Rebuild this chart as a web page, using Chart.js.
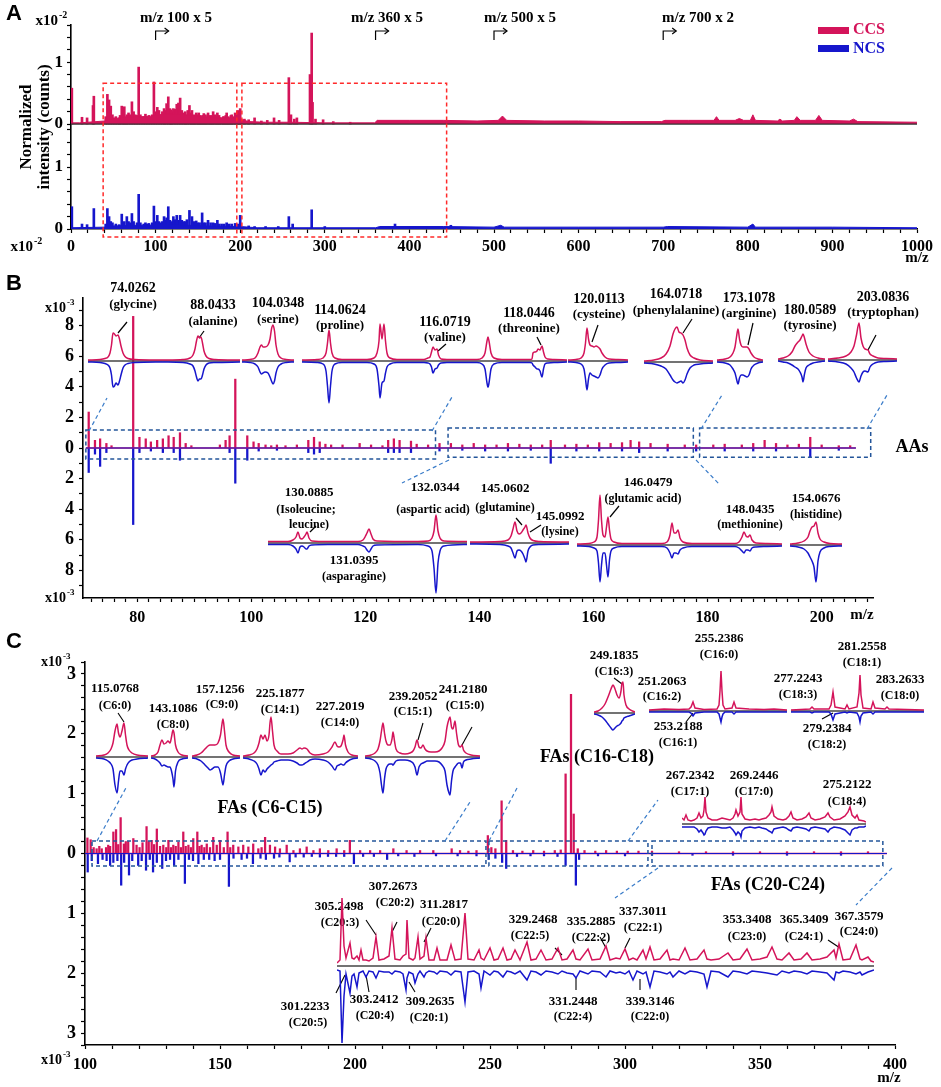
<!DOCTYPE html>
<html>
<head>
<meta charset="utf-8">
<script src="https://cdn.jsdelivr.net/npm/chart.js@4.4.1/dist/chart.umd.min.js"></script>
<style>
  body { margin: 0; background: #fff; }
  #fig { position: relative; width: 941px; height: 1087px; overflow: hidden; background: #fff; }
  #fig canvas { position: absolute; }
</style>
</head>
<body>
<div id="fig"></div>
<script>
// ---------- data: panel A (x10^-2, two stacked traces) ----------
const A_X_MAJOR = [0, 100, 200, 300, 400, 500, 600, 700, 800, 900, 1000];
const A_CCS_PEAKS = [[1,0.58],[13,0.11],[19,0.1],[26,0.3],[27,0.45],[43,0.48],[45,0.39],[47,0.29],[51,0.1],[55,0.08],
  [60,0.29],[63,0.28],[66,0.15],[72,0.36],[76,0.15],[80,0.92],[84,0.1],[90,0.12],[94,0.1],[98,0.68],[102,0.27],
  [106,0.15],[110,0.25],[113,0.33],[115,0.44],[118,0.23],[121,0.25],[125,0.32],[127,0.34],[129,0.42],[133,0.18],
  [136,0.15],[140,0.3],[143,0.22],[146,0.12],[148,0.18],[151,0.18],[154,0.12],[157,0.17],[160,0.12],[162,0.18],
  [165,0.12],[168,0.2],[173,0.18],[176,0.1],[178,0.1],[181,0.12],[184,0.18],[187,0.1],[190,0.15],[194,0.18],
  [197,0.22],[200,0.25],[205,0.08],[210,0.07],[217,0.1],[225,0.05],[232,0.06],[240,0.1],[246,0.06],[257.5,0.75],
  [260,0.15],[264,0.08],[267,0.1],[282.5,0.8],[284.5,1.47],[285.5,0.35],[289,0.08],[298,0.07],[310,0.04],[330,0.03]];
const A_CCS_SMALL = [[41,0.12],[49,0.15],[53,0.12],[57,0.1],[58,0.14],[62,0.15],[65,0.12],[68,0.18],[70,0.15],
  [74,0.2],[78,0.14],[82,0.15],[86,0.12],[88,0.16],[92,0.14],[96,0.15],[100,0.2],[104,0.22],[108,0.2],[111,0.22],
  [117,0.25],[119,0.2],[123,0.24],[131,0.22],[135,0.2],[138,0.22],[142,0.18],[145,0.15],[150,0.15],[153,0.14],
  [156,0.14],[159,0.15],[164,0.14],[167,0.14],[170,0.15],[172,0.12],[175,0.14],[180,0.12],[183,0.14],[186,0.12],
  [189,0.14],[192,0.12],[196,0.15],[199,0.14]];
const A_CCS_ENV = [[0,0.02],[10,0.02],[40,0.05],[50,0.09],[60,0.1],[70,0.11],[80,0.12],[90,0.12],[100,0.14],[110,0.16],
  [120,0.16],[130,0.15],[140,0.14],[150,0.12],[160,0.11],[170,0.1],[180,0.1],[190,0.09],[200,0.08],[210,0.04],
  [230,0.03],[260,0.03],[300,0.02],[359,0.02],[362,0.06],[400,0.06],[440,0.06],[480,0.05],[505,0.06],[510,0.13],
  [515,0.06],[560,0.05],[600,0.05],[650,0.04],[698,0.04],[702,0.06],[730,0.06],[760,0.06],[763,0.12],[766,0.06],
  [785,0.06],[790,0.09],[795,0.06],[803,0.06],[806,0.15],[809,0.06],[835,0.05],[838,0.08],[841,0.05],[855,0.06],
  [858,0.12],[862,0.06],[880,0.06],[884,0.14],[888,0.06],[920,0.05],[925,0.08],[930,0.04],[1000,0.03]];
const A_NCS_PEAKS = [[1,0.36],[13,0.08],[19,0.07],[27,0.33],[43,0.33],[45,0.2],[47,0.12],[60,0.24],[63,0.12],[66,0.2],
  [72,0.25],[80,0.56],[90,0.08],[98,0.37],[102,0.22],[106,0.1],[110,0.2],[113,0.18],[115,0.36],[121,0.2],[125,0.22],
  [129,0.22],[133,0.12],[140,0.3],[143,0.2],[148,0.13],[152,0.1],[155,0.26],[159,0.1],[162,0.14],[168,0.1],[173,0.14],
  [178,0.08],[184,0.1],[190,0.08],[194,0.09],[200,0.22],[210,0.05],[217,0.04],[230,0.04],[245,0.04],[257.5,0.2],
  [262,0.08],[284.5,0.31],[300,0.04],[383,0.08],[449,0.06]];
const A_NCS_SMALL = [[41,0.08],[49,0.1],[53,0.08],[57,0.07],[62,0.1],[68,0.12],[70,0.1],[74,0.12],[78,0.1],[82,0.1],
  [86,0.08],[88,0.1],[92,0.09],[96,0.1],[100,0.12],[104,0.12],[108,0.12],[111,0.14],[117,0.14],[119,0.12],[123,0.15],
  [127,0.14],[131,0.14],[135,0.12],[137,0.15],[145,0.12],[150,0.1],[157,0.1],[165,0.1],[170,0.09],[175,0.08],
  [181,0.08],[187,0.08],[197,0.08]];
const A_NCS_ENV = [[0,0.02],[40,0.03],[50,0.05],[80,0.06],[120,0.07],[160,0.05],[200,0.04],[220,0.02],[300,0.02],
  [360,0.02],[365,0.04],[440,0.04],[500,0.03],[508,0.06],[512,0.03],[600,0.03],[700,0.03],[705,0.04],[800,0.03],
  [806,0.08],[809,0.03],[900,0.03],[1000,0.02]];
const A_ZOOM_MARKS = [[100, 'm/z 100 x 5'], [360, 'm/z 360 x 5'], [500, 'm/z 500 x 5'], [700, 'm/z 700 x 2']];

// ---------- data: panel B amino acids (x10^-3) ----------
const B_X_MAJOR = [80, 100, 120, 140, 160, 180, 200];
const B_Y_MAJOR = [-8, -6, -4, -2, 0, 2, 4, 6, 8];
const B_CCS_PEAKS = [[71.5,2.35],[72.6,0.5],[73.5,0.6],[74.6,0.3],[75.5,0.15],[79.3,8.6],[80.4,0.7],[81.5,0.6],[82.4,0.4],
  [83.5,0.5],[84.5,0.6],[85.5,0.8],[86.4,0.7],[87.5,1.0],[88.5,0.3],[89.5,0.15],[94.5,0.2],[95.5,0.5],[96.2,0.8],
  [97.2,4.5],[99.3,0.8],[100.4,0.4],[101.3,0.3],[102.5,0.2],[103.5,0.15],[104.5,0.2],[106,0.15],[108,0.2],[110,0.5],
  [111,0.7],[112,0.4],[113,0.25],[114,0.2],[116,0.2],[119,0.3],[121,0.2],[123,0.15],[124,0.5],[125,0.6],[126,0.5],
  [128,0.45],[129,0.25],[131,0.2],[133,0.3],[135,0.3],[137,0.2],[139,0.3],[141,0.2],[143,0.2],[145,0.3],[147,0.25],
  [149,0.2],[151,0.2],[152.5,0.5],[155,0.2],[157,0.25],[159,0.2],[161,0.35],[163,0.3],[165,0.35],[166.5,0.5],
  [168,0.4],[170,0.3],[173,0.25],[176,0.2],[178,0.2],[181,0.2],[183,0.25],[186,0.2],[188,0.3],[190,0.5],[192,0.3],
  [194,0.2],[196,0.25],[198,0.7],[200,0.2],[203,0.15],[205,0.15]];
const B_NCS_PEAKS = [[71.5,1.6],[72.6,0.4],[73.5,1.2],[74.6,0.3],[79.3,5.0],[80.4,0.3],[82.4,0.2],[84.5,0.3],[86.4,0.3],
  [87.5,0.8],[96.2,0.3],[97.2,2.3],[99.3,0.8],[101.3,0.2],[104.5,0.15],[110,0.3],[111,0.4],[112,0.3],[124,0.3],
  [125,0.3],[126,0.3],[128,0.3],[133,0.2],[137,0.15],[141,0.2],[145,0.2],[149,0.15],[152.5,1.0],[157,0.2],[161,0.2],
  [165,0.2],[168,0.3],[173,0.2],[178,0.2],[183,0.2],[188,0.2],[192,0.2],[198,0.6],[203,0.15]];

// inset profiles: [channel, CCS intensity, NCS intensity] (relative units)
const B_GLY = [[0,1,1],[12,1.5,1.5],[17,2.5,2.5],[20,4,4],[22,8,7],[23.5,16,14],[25,28,26],[26.5,27,25],[28,25,22],
  [30,26,24],[31.5,22,20],[33,15,14],[35,8,7],[37,4.5,4],[40,2.5,2.5],[47,1.5,1.5],[75,1,1]];
const B_ALA = [[0,1,1],[20,1.5,1.5],[27,3,3],[30,6,5],[32,12,10],[33.5,20,16],[35,25,20],[36.5,23,18],[38,24,18],
  [39.5,18,14],[41,10,8],[43,5,4],[46,2.5,2],[52,1.5,1.5],[77,1,1]];
const B_SER = [[0,1,1],[8,1.5,1.5],[13,3,3],[16,8,6],[18,14,11],[19.5,16,13],[21,14,12],[23,14,11],[26,16,12],
  [28,22,16],[29.5,32,20],[31,36,23],[32.5,30,20],[34,16,12],[36,7,6],[39,3,3],[44,1.5,1.5],[52,1,1]];
const B_PRO = [[0,1,1],[15,1.5,1.5],[21,3,3],[24,8,10],[25.5,18,25],[27,31,42],[28.5,18,25],[30,8,10],[33,3,3],
  [40,1.5,1.5],[65,1.5,1.5],[72,3,3],[75,8,8],[77,20,25],[78,37,37],[80,22,22],[82,37,20],[83.5,20,12],[85,8,6],
  [88,3,3],[95,1.5,1.5],[122,1.5,1.5],[126,3,2],[128,4,3],[129.5,9,6],[131,14,12],[133,11,8],[135,12,7],[136.5,6,4],
  [139,2,2],[145,1.5,1.5],[175,1.5,1.5],[180,3,3],[183,8,8],[185,20,22],[186,24,26],[187,20,22],[189,8,8],[192,3,3],
  [200,1.5,1.5],[228,1.5,1.5],[230,2,2],[231,8,4],[233,9,6],[235,10,8],[236,12,8],[238,11,10],[240,15,16],
  [241.5,9,8],[243,4,3],[246,2,2],[252,1.5,1.5],[265,1,1]];
const B_CYS = [[0,1,1],[8,1.5,1.5],[13,3,3],[16,8,8],[17.5,18,18],[19,33,29],[20.5,22,18],[22,16,12],[24,15,14],
  [26,14,15],[28,15,16],[30,14,17],[32,12,14],[34,8,8],[37,4,4],[41,2,2],[50,1.5,1.5],[60,1,1]];
const B_PHE = [[0,1,1],[10,2,2],[17,4,4],[22,8,7],[26,16,13],[29,28,18],[31,33,20],[33,35,21],[35,30,20],[37,29,19],
  [39,27,21],[41,22,18],[43,14,12],[46,7,6],[50,4,3],[56,2,2],[69,1,1]];
const B_ARG = [[0,1,1],[8,2,2],[13,4,4],[16,8,8],[18,14,12],[19.5,24,18],[21,32,23],[22.5,22,17],[24,16,14],[26,14,14],
  [28,14,15],[30,14,16],[32,12,14],[34,8,8],[37,4,4],[41,2,2],[46,1,1]];
const B_TYR = [[0,1,1],[5,2,2],[10,4,3],[14,8,5],[17,14,7],[20,18,9],[22,20,12],[24,24,17],[25,26,22],[26.5,22,14],
  [28,16,8],[31,8,5],[35,4,3],[40,2,2],[47,1,1]];
const B_TRP = [[0,1,1],[10,2,2],[18,4,4],[23,8,8],[26,14,12],[28.5,25,18],[31,37,22],[33,22,16],[35,14,12],[37,11,11],
  [40,10,12],[42,6,7],[45,4,4],[50,2,2],[58,1.5,1.5],[69,1,1]];
const B_ILE_ASN_ASP = [[0,1.5,1.5],[20,1.5,1.5],[25,3,3],[28,6,6],[30,11,10],[32,5,4],[34,4,3],[36,6,4],[38,9,6],
  [39,11,6],[41,5,3],[44,2,2],[60,1.5,1.5],[90,1.5,1.5],[95,3,3],[97,6,4],[99,10,7],[101,14,9],[103,9,6],[105,4,3],
  [109,2,2],[150,1.5,1.5],[160,2,3],[164,5,8],[166,12,25],[168,28,50],[170,12,20],[172,5,8],[176,2,3],[199,1.5,1.5]];
const B_GLN_LYS = [[0,1,1],[30,1.5,1.5],[38,3,3],[41,7,5],[43,14,10],[45,21,15],[47,12,8],[49,9,7],[51,10,8],
  [53,13,11],[55,16,16],[56,18,19],[58,10,8],[60,5,4],[63,2.5,2],[70,1.5,1.5],[99,1,1]];
const B_GLU_MET = [[0,1,1],[12,1.5,1.5],[17,3,3],[20,8,6],[21.5,25,18],[23,50,37],[24.5,25,20],[26,10,8],[28,8,8],
  [29.5,18,20],[31,28,32],[32.5,15,15],[34,6,6],[37,3,3],[45,1.5,1.5],[85,1.5,1.5],[90,3,3],[93,10,8],[95,22,13],
  [97,12,8],[99,12,8],[101,15,9],[103,7,5],[106,3,3],[115,1.5,1.5],[158,1.5,1.5],[162,3,3],[165,8,6],[167,13,8],
  [169,9,5],[171,8,5],[173,10,6],[175,5,3],[179,2,2],[190,1.5,1.5],[205,1,1]];
const B_HIS = [[0,1,1],[8,2,2],[14,4,4],[18,8,8],[20,14,12],[22,18,16],[24,19,22],[26,23,37],[28,12,16],[30,6,7],
  [34,3,3],[40,1.5,1.5],[52,1,1]];

// ---------- data: panel C fatty acids (x10^-3) ----------
const C_X_MAJOR = [100, 150, 200, 250, 300, 350, 400];
const C_Y_MAJOR = [-3, -2, -1, 0, 1, 2, 3];
const C_CCS_PEAKS = [[100.9,0.26],[102.1,0.23],[103.2,0.1],[104.3,0.08],[105.3,0.12],[106.2,0.08],[107.8,0.1],
  [108.6,0.14],[109.3,0.12],[110.5,0.36],[111.5,0.4],[112.3,0.15],[113.2,0.6],[114.4,0.16],[115.1,0.2],[116,0.2],
  [117.9,0.25],[119.1,0.14],[120.2,0.1],[121.3,0.18],[122.8,0.45],[123.6,0.2],[124.7,0.22],[125.6,0.15],[126.6,0.41],
  [127.8,0.12],[129,0.14],[130.1,0.1],[130.9,0.22],[131.8,0.1],[132.7,0.14],[133.6,0.12],[134.6,0.19],[135.5,0.1],
  [136.4,0.36],[137.3,0.12],[138.3,0.14],[139.2,0.1],[140.1,0.25],[141.6,0.36],[142.4,0.12],[143.2,0.14],[144.2,0.1],
  [145.1,0.16],[146.3,0.1],[147.5,0.27],[148.8,0.14],[150,0.22],[151.4,0.1],[152.8,0.36],[153.8,0.1],[154.9,0.14],
  [156.8,0.11],[158.6,0.14],[160.5,0.11],[162.3,0.16],[164.2,0.08],[165.4,0.1],[166.7,0.27],[168.5,0.14],[170.4,0.11],
  [172.2,0.08],[174.7,0.14],[177.2,0.05],[179.6,0.08],[182.1,0.11],[184.6,0.05],[187,0.08],[190.1,0.05],[193.2,0.08],
  [196,0.05],[198.1,0.22],[201.9,0.05],[205.6,0.05],[209.3,0.05],[214.2,0.08],[219.1,0.05],[224.1,0.05],[229,0.05],
  [235.8,0.08],[238.9,0.05],[242,0.04],[245,0.05],[249.2,0.3],[250.5,0.1],[252,0.08],[254.3,0.88],[256,0.22],
  [258.5,0.05],[262,0.04],[266,0.05],[270,0.04],[274,0.05],[276.2,0.06],[278,1.33],[280,2.66],[281,0.66],[282.5,0.08],
  [285,0.05],[289,0.04],[293,0.05],[297,0.04],[301,0.04],[305,0.04],[310,0.04],[320,0.03],[330,0.03],[340,0.03],
  [350,0.03],[360,0.03],[370,0.03],[380,0.03],[390,0.03]];
const C_NCS_PEAKS = [[101,0.31],[102.5,0.12],[104.8,0.17],[106.5,0.1],[108,0.12],[109.3,0.2],[110.5,0.15],[112,0.12],
  [113.4,0.53],[114.5,0.15],[116.3,0.36],[117.5,0.12],[119.7,0.2],[121,0.12],[122.6,0.28],[124,0.1],[125.2,0.31],
  [126.6,0.15],[128.6,0.25],[130,0.12],[131.5,0.1],[133,0.2],[134.6,0.1],[137,0.5],[138.5,0.1],[140,0.12],[142,0.17],
  [144,0.1],[146,0.1],[148,0.12],[150,0.1],[153.3,0.55],[155,0.08],[158,0.1],[160,0.08],[162.2,0.17],[165,0.08],
  [167,0.1],[170,0.08],[172,0.06],[175.8,0.14],[178,0.06],[181,0.06],[184,0.05],[187,0.06],[190,0.05],[193,0.05],
  [196,0.05],[199.6,0.17],[203,0.05],[207,0.05],[211.9,0.1],[216,0.04],[222,0.05],[230,0.04],[238,0.04],[245,0.04],
  [249.5,0.1],[252,0.08],[254.5,0.15],[256,0.25],[260,0.05],[265,0.04],[270,0.04],[275,0.05],[278,0.2],[281.8,0.53],
  [283,0.1],[290,0.04],[300,0.04],[310,0.03],[325,0.03],[340,0.03],[360,0.03],[380,0.03]];

const C_C6 = [[0,1,1],[8,2,2],[12,4,4],[15,8,7],[17,14,12],[19,26,28],[21,33,36],[22.5,24,24],[24,20,14],[26,26,14],
  [28,34,18],[29.5,22,12],[31,12,8],[33,7,5],[36,4,3],[41,2,2],[52,1,1]];
const C_C8 = [[0,1,1],[4,2,2],[7,5,4],[9,12,6],[11,17,9],[13,13,8],[15,14,9],[17,16,10],[19,14,10],[20.5,20,14],
  [22,27,22],[23,24,30],[24.5,12,14],[27,5,5],[31,2,2],[37,1,1]];
const C_C9 = [[0,1,1],[5,2,2],[9,4,4],[13,8,8],[16,11,11],[18,12,13],[20,12,12],[23,12,10],[26,14,10],[28.5,22,16],
  [30,33,24],[31,38,28],[32.5,26,18],[34,12,9],[37,5,4],[41,2,2],[48,1,1]];
const C_C14 = [[0,1,1],[6,2,2],[11,4,4],[14,8,7],[16,14,12],[18,22,18],[20,18,13],[22,22,15],[24,16,12],[26,22,10],
  [27,34,9],[28,40,8],[29.5,26,7],[31,12,5],[34,6,4],[38,3,3],[45,3,3],[50,4,4],[54,7,6],[57,9,8],[59,8,8],[61,9,7],
  [64,8,5],[67,4,3],[72,2,2],[80,3,3],[85,5,5],[89,10,9],[92,15,13],[94,11,9],[96,10,8],[98,11,7],[100,17,8],
  [101,22,8],[102.5,12,6],[105,5,4],[109,2,2],[115,1,1]];
const C_C15 = [[0,1,1],[6,2,2],[10,4,4],[13,8,8],[15,16,16],[16.5,26,28],[18,34,36],[19.5,24,22],[21,16,12],[23,12,8],
  [25,12,7],[27,18,7],[28,25,8],[29.5,16,6],[31,8,4],[35,4,3],[40,3,3],[45,4,4],[48,6,6],[50,10,10],[52,17,18],
  [54,10,10],[56,9,7],[58,12,6],[60,8,5],[62,6,4],[66,5,4],[70,5,4],[74,6,5],[77,9,8],[80,16,14],[82,30,28],
  [84,38,36],[85,40,38],[86.5,30,24],[88,28,14],[90,36,10],[91.5,24,8],[93.5,12,6],[95.5,10,6],[97,12,11],
  [98.5,7,5],[101,4,3],[106,2,2],[115,1,1]];
const C_C16_3 = [[0,1,1],[4,2,2],[8,5,4],[11,9,7],[14,16,11],[17,24,15],[19,28,17],[21,24,15],[23,18,13],[25,15,12],
  [27,22,10],[28,30,8],[29,31,7],[30,18,5],[32,8,4],[35,4,3],[41,1,1]];
const C_C16 = [[0,1,1],[15,2,1],[30,1.5,1],[40,2,1],[42,4,2],[44,9,5],[46,3,2],[55,1.5,1],[68,2,1],[70,6,3],[71,20,7],
  [72,40,11],[73,20,6],[74,6,3],[76,2,1],[83,3,1],[85,9,3],[87,3,1],[100,2,1],[115,1.5,1],[125,2,1],[138,1,1]];
const C_C18 = [[0,1,1],[10,1.5,1],[19,2,1],[21,4,2],[23,2,1],[38,2,1],[40,6,3],[42,19,9],[44,4,3],[54,2,1],[56,6,2],
  [58,2,1],[66,4,2],[68,18,6],[69,36,11],[70,16,5],[72,3,2],[80,2,1],[82,9,3],[84,3,1],[94,2,1],[96,4,1],[98,2,1],
  [133,1,1]];
const C_C17 = [[0,6,3],[2,4,3],[4,9,3],[6,4,3],[9,3,3],[12,4,3],[15,6,5],[17,11,8],[19,6,6],[21,8,9],[22,14,11],
  [23,27,10],[24,12,7],[26,6,4],[30,4,3],[35,4,3],[40,6,4],[44,5,4],[48,4,3],[51,6,6],[53,10,9],[54,14,11],[56,8,8],
  [58,12,10],[59,27,13],[60,10,7],[63,5,4],[68,4,3],[73,5,4],[77,4,3],[80,5,4],[84,6,5],[87,9,7],[89,12,8],[90,17,9],
  [92,8,5],[96,5,4],[101,4,3],[104,5,4],[107,8,6],[109,12,7],[111,6,4],[115,4,3],[120,5,4],[124,7,5],[127,11,7],
  [129,6,4],[133,4,3],[138,5,4],[143,7,5],[146,11,8],[148,7,5],[152,4,3],[158,5,4],[163,8,6],[166,12,9],[168,17,11],
  [170,9,6],[173,6,4],[175,9,4],[177,4,3],[182,3,3],[184,2,2]];
const C_C20 = [[0,3,4],[3,6,5],[5,68,77],[7,20,30],[9,8,8],[13,23,27],[15,8,10],[17,7,8],[20,10,21],[22,6,7],[24,16,6],
  [26,6,5],[29,6,11],[32,5,5],[36,8,6],[39,29,12],[42,6,5],[47,7,6],[52,10,6],[55,38,8],[58,7,5],[63,6,6],[66,10,8],
  [69,12,24],[70,46,12],[72,8,6],[76,6,8],[78,8,17],[81,29,8],[83,7,5],[87,10,11],[89,28,7],[92,6,5],[97,6,6],
  [100,18,8],[103,6,5],[110,6,6],[114,21,9],[118,6,5],[124,7,6],[128,53,36],[131,7,6],[137,6,5],[142,16,8],[144,8,22],
  [147,6,5],[153,18,9],[157,6,5],[161,7,6],[166,18,11],[170,6,5],[174,7,6],[178,16,8],[183,6,5],[190,24,14],[194,6,5],
  [199,7,6],[204,16,9],[209,6,5],[215,7,6],[221,18,8],[225,6,5],[230,7,7],[236,16,8],[239,7,12],[243,6,5],[251,17,8],
  [255,6,5],[263,7,6],[269,20,11],[273,6,5],[279,8,7],[283,7,6],[288,17,8],[292,6,5],[296,8,14],[300,6,5],[306,16,8],
  [309,7,6],[313,19,21],[317,6,5],[323,7,6],[330,16,8],[333,6,6],[336,7,11],[342,6,5],[348,18,8],[353,6,5],[360,7,6],
  [367,16,8],[370,7,21],[374,6,5],[382,7,6],[391,13,11],[396,6,5],[403,7,6],[410,17,8],[415,6,5],[423,7,6],[430,9,7],
  [435,19,8],[440,7,9],[445,6,5],[452,13,7],[457,6,5],[464,7,6],[470,13,8],[475,6,5],[483,7,6],[490,9,7],[497,16,14],
  [499,8,6],[502,22,7],[506,6,5],[513,7,6],[519,21,8],[523,7,6],[525,6,9],[531,9,6],[534,5,5],[537,4,4]];

// ---------- styling / layout ----------
const RED = '#d4145a';
const BLUE = '#1616cc';
const BOX_BLUE = '#23559a';
const LINK_BLUE = '#3a7cc9';
const FONT = "'Liberation Serif', 'Times New Roman', serif";
const A_OFF = 1.694;   // vertical offset of the CCS trace in panel A (y units)

Chart.defaults.font.family = FONT;
Chart.defaults.font.weight = 'bold';
Chart.defaults.color = '#000';

const fig = document.getElementById('fig');
function addCanvas(x, y, w, h) {
  const c = document.createElement('canvas');
  c.width = w; c.height = h;
  c.style.left = x + 'px'; c.style.top = y + 'px';
  c.style.width = w + 'px'; c.style.height = h + 'px';
  fig.appendChild(c);
  return c;
}
function steps(from, to, step) {
  const out = [], n = Math.round((to - from) / step);
  for (let i = 0; i <= n; i++) out.push(+(from + i * step).toFixed(6));
  return out;
}
function near(list, v) { return list.some(m => Math.abs(m - v) < 1e-6); }

function scaleCfg(o) {
  return {
    type: 'linear', min: o.min, max: o.max, offset: false,
    afterFit: s => { if (o.width != null) s.width = o.width; if (o.height != null) s.height = o.height; },
    afterBuildTicks: s => { s.ticks = o.ticks.map(v => ({ value: v })); },
    ticks: { autoSkip: false, maxRotation: 0, padding: o.pad, font: { size: o.size, weight: 'bold' },
             callback: (v, i) => o.label(o.ticks[i]) },
    grid: { drawOnChartArea: false, drawTicks: true, tickLength: 4, tickColor: '#000', tickWidth: 1.2, offset: false },
    border: { display: true, color: '#000', width: 1.6 }
  };
}
function sticks(list, color, sign, base, thick) {
  return { type: 'bar', data: list.map(([m, h]) => ({ x: m, y: [base, base + sign * h] })),
           backgroundColor: color, barThickness: thick || 1.6, grouped: false, borderWidth: 0, order: 2 };
}
function trace(points, color, width, fillVal, order) {
  return { type: 'line', data: points, borderColor: color, backgroundColor: color, borderWidth: width,
           pointRadius: 0, tension: 0, fill: fillVal == null ? false : { value: fillVal }, order: order };
}
function mainChart(canvas, offY, pad, xs, ys, datasets, draw) {
  return new Chart(canvas, {
    type: 'bar',
    data: { datasets },
    options: {
      responsive: false, animation: false, events: [],
      layout: { padding: pad },
      plugins: { legend: { display: false }, tooltip: { enabled: false } },
      scales: { x: scaleCfg(xs), y: scaleCfg(ys) }
    },
    plugins: [{ id: 'notes', afterDraw: c => {
      const ctx = c.ctx; ctx.save(); ctx.translate(0, -offY); draw(ctx, c, offY); ctx.restore();
    } }]
  });
}

// drawing helpers (page coordinates)
function texts(ctx, list, color) {
  ctx.textAlign = 'center'; ctx.textBaseline = 'middle'; ctx.fillStyle = color || '#000';
  for (const [t, x, y, s] of list) { ctx.font = `bold ${s}px ${FONT}`; ctx.fillText(t, x, y); }
}
function segs(ctx, list, color, width, dash) {
  ctx.strokeStyle = color; ctx.lineWidth = width; ctx.setLineDash(dash || []);
  for (const [x1, y1, x2, y2] of list) { ctx.beginPath(); ctx.moveTo(x1, y1); ctx.lineTo(x2, y2); ctx.stroke(); }
  ctx.setLineDash([]);
}
function boxes(ctx, c, offY, list, color) {
  const sx = c.scales.x, sy = c.scales.y;
  ctx.strokeStyle = color; ctx.lineWidth = 1.5; ctx.setLineDash([4, 3]);
  for (const [x1, x2, y1, y2] of list) {
    const a = sx.getPixelForValue(x1), b = sx.getPixelForValue(x2);
    const t = sy.getPixelForValue(y2) + offY, u = sy.getPixelForValue(y1) + offY;
    ctx.strokeRect(a, t, b - a, u - t);
  }
  ctx.setLineDash([]);
}
function pow10(ctx, xr, y, exp, size) {
  ctx.fillStyle = '#000'; ctx.textBaseline = 'middle';
  ctx.font = `bold ${size}px ${FONT}`; ctx.textAlign = 'right'; ctx.fillText('x10', xr, y);
  ctx.font = `bold ${Math.round(size * 0.65)}px ${FONT}`; ctx.textAlign = 'left'; ctx.fillText(exp, xr + 1, y - size * 0.35);
}
function letter(ctx, t, x, y) {
  ctx.fillStyle = '#000'; ctx.font = "bold 22px 'Liberation Sans', Arial, sans-serif";
  ctx.textAlign = 'left'; ctx.textBaseline = 'middle'; ctx.fillText(t, x, y);
}

// ---------------- Panel A ----------------
const A_BOXES = [[38, 196, -0.13, 2.355], [202, 444, -0.13, 2.355]];
const A_Y_LABELS = [[0, '0'], [1, '1'], [A_OFF, '0'], [A_OFF + 1, '1']];
const aYTicks = steps(0, 1.6, 0.2).concat(steps(A_OFF, A_OFF + 1.6, 0.2));
const toXY = (list, off) => list.map(([m, v]) => ({ x: m, y: off + v }));
mainChart(addCanvas(0, 0, 941, 270), 0, { left: 0, top: 25, right: 24, bottom: 0 },
  { min: 0, max: 1000, ticks: steps(0, 1000, 20), width: null, height: 41, pad: 4, size: 16,
    label: v => near(A_X_MAJOR, v) ? String(v) : '' },
  { min: 0, max: A_OFF + 1.6, ticks: aYTicks, width: 71, height: null, pad: 4, size: 17,
    label: v => { const m = A_Y_LABELS.find(p => Math.abs(p[0] - v) < 1e-6); return m ? m[1] : ''; } },
  [
    trace([{ x: 0, y: A_OFF }, { x: 1000, y: A_OFF }], '#333', 1.3, null, 0),
    sticks(A_CCS_PEAKS, RED, 1, A_OFF, 2),
    sticks(A_CCS_SMALL, RED, 1, A_OFF, 2),
    trace(toXY(A_CCS_ENV, A_OFF), RED, 1, A_OFF, 1),
    sticks(A_NCS_PEAKS, BLUE, 1, 0, 2),
    sticks(A_NCS_SMALL, BLUE, 1, 0, 2),
    trace(toXY(A_NCS_ENV, 0), BLUE, 1, 0, 1)
  ],
  (ctx, c, offY) => {
    letter(ctx, 'A', 6, 14);
    boxes(ctx, c, offY, A_BOXES, '#ff2a2a');
    // zoom factor marks with bent arrows
    const sx = c.scales.x;
    const tx = { 100: 176, 360: 387, 500: 520, 700: 698 };
    for (const [m, t] of A_ZOOM_MARKS) {
      const x = sx.getPixelForValue(m);
      texts(ctx, [[t, tx[m], 18, 15]]);
      ctx.strokeStyle = '#000'; ctx.lineWidth = 1.2; ctx.beginPath();
      ctx.moveTo(x, 40); ctx.lineTo(x, 31); ctx.lineTo(x + 13, 31); ctx.stroke();
      ctx.beginPath(); ctx.moveTo(x + 9, 28); ctx.lineTo(x + 13, 31); ctx.lineTo(x + 9, 34); ctx.stroke();
    }
    // legend
    ctx.fillStyle = RED; ctx.fillRect(818, 27, 31, 7);
    ctx.fillStyle = BLUE; ctx.fillRect(818, 45, 31, 7);
    ctx.textAlign = 'left'; ctx.textBaseline = 'middle'; ctx.font = `bold 16px ${FONT}`;
    ctx.fillStyle = RED; ctx.fillText('CCS', 853, 30);
    ctx.fillStyle = BLUE; ctx.fillText('NCS', 853, 49);
    // y title
    ctx.save(); ctx.translate(27, 127); ctx.rotate(-Math.PI / 2);
    ctx.fillStyle = '#000'; ctx.textAlign = 'center'; ctx.font = `bold 17px ${FONT}`;
    ctx.fillText('Normalized', 0, 0); ctx.fillText('intensity (counts)', 0, 18); ctx.restore();
    pow10(ctx, 58, 21, '-2', 15);
    pow10(ctx, 33, 247, '-2', 15);
    texts(ctx, [['m/z', 917, 258, 15]]);
  });

// ---------------- Panel B ----------------
const B_BOXES = [[71.0, 132.3, -0.72, 1.18], [134.5, 177.5, -0.6, 1.3], [178.6, 208.6, -0.6, 1.3]];
const B_TEXT = [
  ['74.0262',133,288,14],['(glycine)',133,305,13],['88.0433',213,305,14],['(alanine)',213,322,13],
  ['104.0348',278,303,14],['(serine)',278,320,13],['114.0624',340,310,14],['(proline)',340,326,13],
  ['116.0719',445,322,14],['(valine)',445,338,13],['118.0446',529,313,14],['(threonine)',529,329,13],
  ['120.0113',599,299,14],['(cysteine)',599,315,13],['164.0718',676,294,14],['(phenylalanine)',676,311,13],
  ['173.1078',749,298,14],['(arginine)',749,314,13],['180.0589',810,310,14],['(tyrosine)',810,326,13],
  ['203.0836',883,297,14],['(tryptophan)',883,313,13],
  ['130.0885',309,493,13],['(Isoleucine;',306,510,12],['leucine)',309,525,12],
  ['131.0395',354,561,13],['(asparagine)',354,577,12],['132.0344',435,488,13],['(aspartic acid)',433,510,12],
  ['145.0602',505,489,13],['(glutamine)',505,508,12],['145.0992',560,517,13],['(lysine)',560,532,12],
  ['146.0479',648,483,13],['(glutamic acid)',643,499,12],['148.0435',750,510,13],['(methionine)',750,525,12],
  ['154.0676',816,499,13],['(histidine)',816,515,12],
  ['AAs',912,447,18],['m/z',862,615,15]];
const B_LEADERS = [[118,333,127,322],[199,338,204,331],[438,351,446,344],[537,337,541,345],[592,342,598,325],
  [683,333,692,319],[748,345,753,323],[868,350,876,335],[310,532,316,526],[522,525,516,518],[530,532,541,525],
  [610,517,619,506]];
const B_LINKS = [[89,431,107,398],[432,431,452,397],[449,460,402,483],[696,460,720,485],[701,429,722,395],[867,429,887,395]];
mainChart(addCanvas(0, 270, 941, 360), 270, { left: 0, top: 28, right: 68, bottom: 0 },
  { min: 70.5, max: 209, ticks: steps(72, 208, 2), width: null, height: 32, pad: 6, size: 16,
    label: v => near(B_X_MAJOR, v) ? String(v) : '' },
  { min: -9.8, max: 9.8, ticks: steps(-9, 9, 1), width: 83, height: null, pad: 5, size: 18,
    label: v => near(B_Y_MAJOR, v) ? String(Math.abs(v)) : '' },
  [
    sticks(B_CCS_PEAKS, RED, 1, 0),
    sticks(B_NCS_PEAKS, BLUE, -1, 0),
    trace([{ x: 71, y: 0 }, { x: 206, y: 0 }], RED, 1.6, null, 1),
    trace([{ x: 71, y: 0 }, { x: 206, y: 0 }], BLUE, 1, null, 0)
  ],
  (ctx, c, offY) => {
    letter(ctx, 'B', 6, 284);
    boxes(ctx, c, offY, B_BOXES, BOX_BLUE);
    segs(ctx, B_LINKS, LINK_BLUE, 1.2, [4, 3]);
    segs(ctx, B_LEADERS, '#000', 1.2);
    texts(ctx, B_TEXT);
    pow10(ctx, 66, 308, '-3', 14);
    pow10(ctx, 66, 598, '-3', 14);
  });

// ---------------- Panel C ----------------
const C_BOXES = [[102.6, 248.5, -0.21, 0.21], [249.6, 308.5, -0.21, 0.21], [310, 395.5, -0.21, 0.21]];
const C_TEXT = [
  ['115.0768',115,689,13],['(C6:0)',115,706,12],['143.1086',173,709,13],['(C8:0)',173,725,12],
  ['157.1256',220,690,13],['(C9:0)',222,705,12],['225.1877',280,694,13],['(C14:1)',280,710,12],
  ['227.2019',340,707,13],['(C14:0)',340,723,12],['239.2052',413,697,13],['(C15:1)',413,712,12],
  ['241.2180',463,690,13],['(C15:0)',465,706,12],['249.1835',614,656,13],['(C16:3)',614,672,12],
  ['255.2386',719,639,13],['(C16:0)',719,655,12],['251.2063',662,682,13],['(C16:2)',662,697,12],
  ['253.2188',678,727,13],['(C16:1)',678,743,12],['281.2558',862,647,13],['(C18:1)',862,663,12],
  ['277.2243',798,679,13],['(C18:3)',798,695,12],['283.2633',900,680,13],['(C18:0)',900,696,12],
  ['279.2384',827,729,13],['(C18:2)',827,745,12],['267.2342',690,776,13],['(C17:1)',690,792,12],
  ['269.2446',754,776,13],['(C17:0)',754,792,12],['275.2122',847,785,13],['(C18:4)',847,802,12],
  ['FAs (C6-C15)',270,808,18],['FAs (C16-C18)',597,757,18],['FAs (C20-C24)',768,885,18],
  ['305.2498',339,907,13],['(C20:3)',340,923,12],['307.2673',393,887,13],['(C20:2)',395,903,12],
  ['311.2817',444,905,13],['(C20:0)',441,922,12],['329.2468',533,920,13],['(C22:5)',530,936,12],
  ['335.2885',591,922,13],['(C22:2)',591,938,12],['337.3011',643,912,13],['(C22:1)',643,928,12],
  ['353.3408',747,920,13],['(C23:0)',747,937,12],['365.3409',804,920,13],['(C24:1)',804,937,12],
  ['367.3579',859,917,13],['(C24:0)',859,932,12],['301.2233',305,1007,13],['(C20:5)',308,1023,12],
  ['303.2412',374,1000,13],['(C20:4)',375,1016,12],['309.2635',430,1002,13],['(C20:1)',429,1018,12],
  ['331.2448',573,1002,13],['(C22:4)',573,1017,12],['339.3146',650,1002,13],['(C22:0)',650,1017,12],
  ['m/z',889,1078,15]];
const C_LEADERS = [[118,713,124,722],[418,740,423,723],[462,745,472,727],[622,684,614,678],[693,713,686,722],
  [833,713,822,719],[366,920,376,935],[397,922,392,932],[431,928,424,942],[555,948,562,955],[600,937,606,948],
  [630,938,625,948],[828,940,840,948],[336,993,345,975],[369,992,366,975],[415,992,409,982],[576,990,576,978],
  [640,990,640,979]];
const C_LINKS = [[97,841,127,786],[445,841,470,802],[489,841,517,788],[628,841,658,800],[658,868,615,898],[892,868,856,905]];
mainChart(addCanvas(0, 630, 941, 457), 630, { left: 0, top: 32, right: 46, bottom: 0 },
  { min: 100, max: 400, ticks: steps(100, 400, 10), width: null, height: 42, pad: 6, size: 16,
    label: v => near(C_X_MAJOR, v) ? String(v) : '' },
  { min: -3.2, max: 3.2, ticks: steps(-3.2, 3.2, 0.2), width: 85, height: null, pad: 5, size: 18,
    label: v => near(C_Y_MAJOR, v) ? String(Math.abs(Math.round(v))) : '' },
  [
    sticks(C_CCS_PEAKS, RED, 1, 0),
    sticks(C_NCS_PEAKS, BLUE, -1, 0),
    trace([{ x: 100, y: 0 }, { x: 397, y: 0 }], RED, 1.6, null, 1),
    trace([{ x: 100, y: 0 }, { x: 397, y: 0 }], BLUE, 1, null, 0)
  ],
  (ctx, c, offY) => {
    letter(ctx, 'C', 6, 642);
    boxes(ctx, c, offY, C_BOXES, BOX_BLUE);
    segs(ctx, C_LINKS, LINK_BLUE, 1.2, [4, 3]);
    segs(ctx, C_LEADERS, '#000', 1.1);
    texts(ctx, C_TEXT);
    pow10(ctx, 62, 662, '-3', 14);
    pow10(ctx, 62, 1060, '-3', 14);
  });

// ---------------- insets (mirror profiles) ----------------
const INSETS = [
  { rows: B_GLY, x: 88, base: 361, w: 75, up: 45, down: 50 },
  { rows: B_ALA, x: 163, base: 361, w: 77, up: 45, down: 50 },
  { rows: B_SER, x: 242, base: 361, w: 52, up: 45, down: 50 },
  { rows: B_PRO, x: 302, base: 361, w: 265, up: 45, down: 50 },
  { rows: B_CYS, x: 568, base: 361, w: 60, up: 45, down: 50 },
  { rows: B_PHE, x: 644, base: 362, w: 69, up: 45, down: 50 },
  { rows: B_ARG, x: 717, base: 361, w: 46, up: 45, down: 50 },
  { rows: B_TYR, x: 778, base: 360, w: 47, up: 45, down: 50 },
  { rows: B_TRP, x: 828, base: 360, w: 69, up: 45, down: 50 },
  { rows: B_ILE_ASN_ASP, x: 268, base: 543, w: 199, up: 40, down: 55 },
  { rows: B_GLN_LYS, x: 470, base: 543, w: 99, up: 40, down: 55 },
  { rows: B_GLU_MET, x: 577, base: 545, w: 205, up: 55, down: 45 },
  { rows: B_HIS, x: 790, base: 545, w: 52, up: 40, down: 45 },
  { rows: C_C6, x: 96, base: 757, w: 52, up: 45, down: 45 },
  { rows: C_C8, x: 151, base: 757, w: 37, up: 45, down: 45 },
  { rows: C_C9, x: 192, base: 757, w: 48, up: 45, down: 45 },
  { rows: C_C14, x: 243, base: 757, w: 115, up: 45, down: 45 },
  { rows: C_C15, x: 365, base: 757, w: 115, up: 45, down: 45 },
  { rows: C_C16_3, x: 594, base: 713, w: 41, up: 35, down: 25 },
  { rows: C_C16, x: 649, base: 711, w: 138, up: 45, down: 15, sharp: true },
  { rows: C_C18, x: 791, base: 711, w: 133, up: 45, down: 15, sharp: true },
  { rows: C_C17, x: 682, base: 824, w: 184, up: 30, down: 18, sharp: true },
  { rows: C_C20, x: 337, base: 966, w: 537, up: 72, down: 80, sharp: true }
];
for (const s of INSETS) {
  const cv = addCanvas(s.x, s.base - s.up, s.w, s.up + s.down);
  const shape = s.sharp ? { tension: 0 } : { cubicInterpolationMode: 'monotone' };
  new Chart(cv, {
    type: 'line',
    data: { datasets: [
      { data: [{ x: 0, y: 0 }, { x: s.w, y: 0 }], borderColor: '#444', borderWidth: 1.3, pointRadius: 0, order: 3 },
      Object.assign({ data: s.rows.map(r => ({ x: r[0], y: r[1] })), borderColor: RED, borderWidth: 1.5,
        pointRadius: 0, order: 2 }, shape),
      Object.assign({ data: s.rows.map(r => ({ x: r[0], y: -r[2] })), borderColor: BLUE, borderWidth: 1.5,
        pointRadius: 0, order: 1 }, shape)
    ] },
    options: {
      responsive: false, animation: false, events: [],
      layout: { padding: 0 },
      plugins: { legend: { display: false }, tooltip: { enabled: false } },
      scales: {
        x: { type: 'linear', display: false, min: 0, max: s.w },
        y: { type: 'linear', display: false, min: -s.down, max: s.up }
      }
    }
  });
}
</script>
</body>
</html>
